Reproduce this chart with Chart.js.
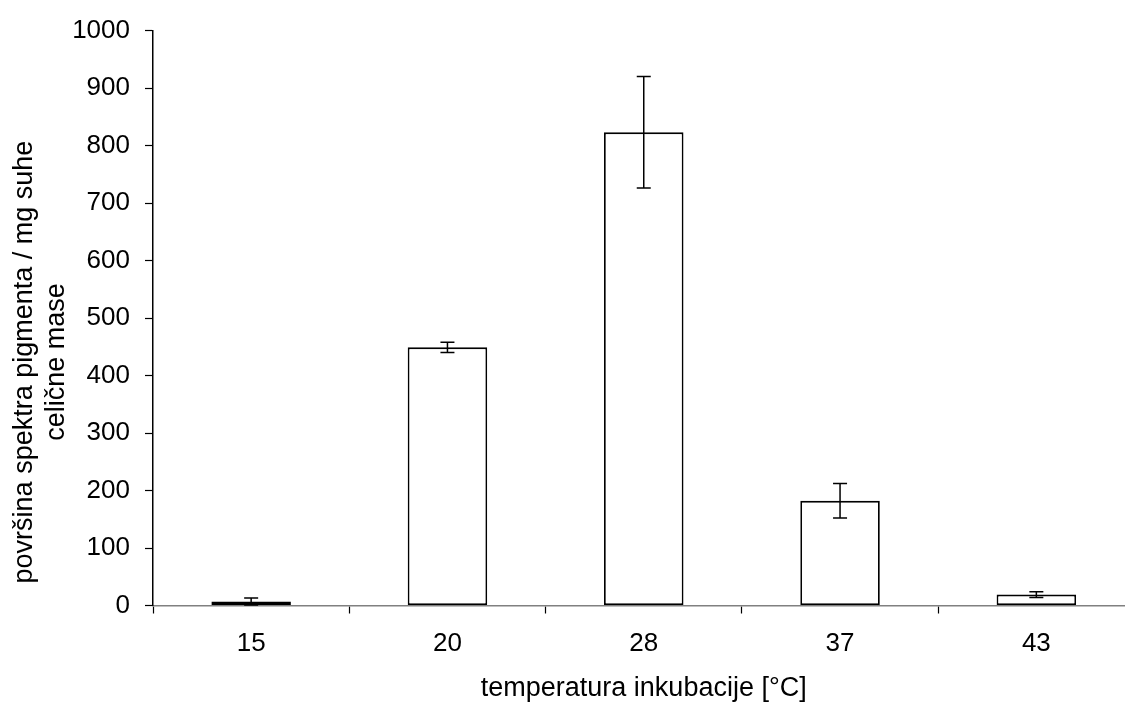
<!DOCTYPE html>
<html>
<head>
<meta charset="utf-8">
<script src="https://cdn.jsdelivr.net/npm/chart.js@4.4.1/dist/chart.umd.min.js"></script>
<style>
  html, body { margin: 0; padding: 0; background: #fff; overflow: hidden; }
  #wrap { width: 1125px; height: 706px; overflow: hidden; }
  canvas { display: block; }
</style>
</head>
<body>
<div id="wrap"><canvas id="chart" width="1136" height="706"></canvas></div>
<script>
  // temperatures (°C) and pigment area per mg dry cell mass, with error (±)
  const temps = ["15", "20", "28", "37", "43"];
  const values = [7, 449, 823, 182, 19];
  const errors = [6, 9, 97, 30, 5];
  const yTicks = [0, 100, 200, 300, 400, 500, 600, 700, 800, 900, 1000];
  const xTitle = "temperatura inkubacije [°C]";
  const yTitle = ["površina spektra pigmenta / mg suhe", "celične mase"];

  const FONT = "'Liberation Sans', Arial, sans-serif";

  // error bars drawn from the scale, on top of the bars
  const errorBars = {
    id: "errorBars",
    afterDatasetsDraw(chart) {
      const meta = chart.getDatasetMeta(0);
      const y = chart.scales.y;
      const ctx = chart.ctx;
      ctx.save();
      ctx.strokeStyle = "#000";
      ctx.lineWidth = 1.5;
      meta.data.forEach((bar, i) => {
        const top = y.getPixelForValue(values[i] + errors[i]);
        const bot = y.getPixelForValue(values[i] - errors[i]);
        ctx.beginPath();
        ctx.moveTo(bar.x, top); ctx.lineTo(bar.x, bot);
        ctx.moveTo(bar.x - 7, top); ctx.lineTo(bar.x + 7, top);
        ctx.moveTo(bar.x - 7, bot); ctx.lineTo(bar.x + 7, bot);
        ctx.stroke();
      });
      ctx.restore();
    },
  };

  // two-line y title, Excel puts it a bit below the axis middle
  const yAxisTitle = {
    id: "yAxisTitle",
    afterDraw(chart) {
      const ctx = chart.ctx;
      const cy = (chart.chartArea.top + chart.chartArea.bottom) / 2 + 44;
      ctx.save();
      ctx.fillStyle = "#000";
      ctx.font = "27px " + FONT;
      ctx.textAlign = "center";
      ctx.textBaseline = "middle";
      yTitle.forEach((line, i) => {
        ctx.save();
        ctx.translate(25 + i * 32, cy);
        ctx.rotate(-Math.PI / 2);
        ctx.fillText(line, 0, 0);
        ctx.restore();
      });
      ctx.restore();
    },
  };

  new Chart(document.getElementById("chart"), {
    type: "bar",
    data: {
      labels: temps,
      datasets: [{
        data: values,
        backgroundColor: "#fff",
        borderColor: "#000",
        borderWidth: 1.8,
        borderSkipped: false,
        categoryPercentage: 1,
        barPercentage: 0.405,
      }],
    },
    options: {
      responsive: false,
      animation: false,
      layout: { padding: { top: 30, right: 1.5, left: 0, bottom: 0 } },
      plugins: { legend: { display: false }, tooltip: { enabled: false } },
      scales: {
        x: {
          offset: true,
          afterFit: (s) => { s.height = 100.5; },
          border: { color: "#808080", width: 1.5 },
          grid: { offset: true, drawOnChartArea: false, tickLength: 8, color: "#000", tickWidth: 1.2 },
          ticks: { color: "#000", font: { family: FONT, size: 26 }, padding: 15 },
          title: {
            display: true,
            text: xTitle,
            color: "#000",
            font: { family: FONT, size: 27 },
            padding: { top: 0, bottom: 1 },
          },
        },
        y: {
          min: 0,
          max: 1000,
          afterFit: (s) => { s.width = 153; },
          afterBuildTicks: (s) => { s.ticks = yTicks.map((v) => ({ value: v })); },
          border: { color: "#000", width: 1.5 },
          grid: { drawOnChartArea: false, tickLength: 8, color: "#000", tickWidth: 1.2 },
          ticks: { color: "#000", font: { family: FONT, size: 26 }, padding: 15, callback: (v) => String(v) },
        },
      },
    },
    plugins: [errorBars, yAxisTitle],
  });
</script>
</body>
</html>
